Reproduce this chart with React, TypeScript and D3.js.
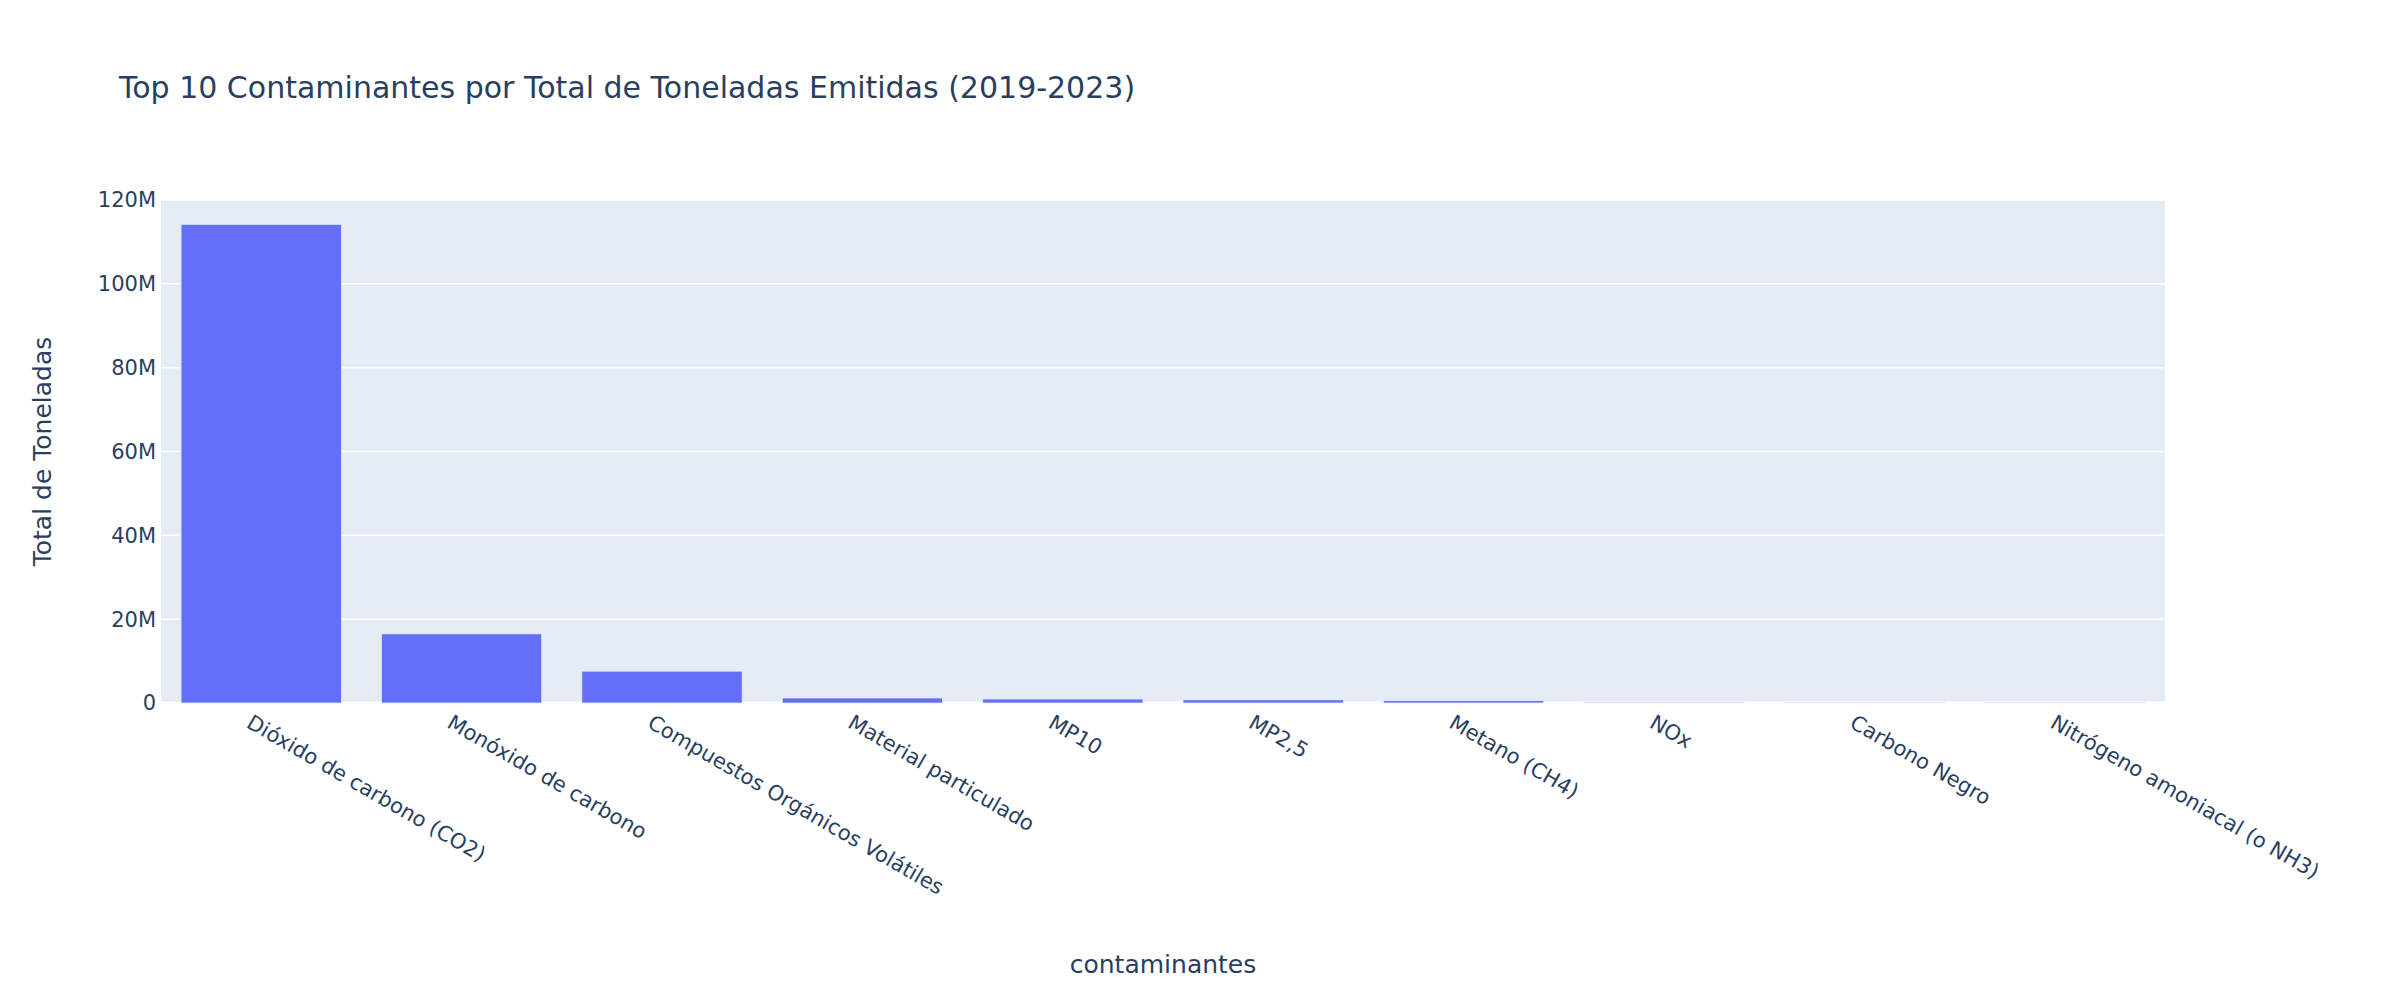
import * as d3 from "d3";
import React from "react";

const contaminantes = [
  "Dióxido de carbono (CO2)",
  "Monóxido de carbono",
  "Compuestos Orgánicos Volátiles",
  "Material particulado",
  "MP10",
  "MP2,5",
  "Metano (CH4)",
  "NOx",
  "Carbono Negro",
  "Nitrógeno amoniacal (o NH3)",
];
const toneladas = [114.2e6, 16.5e6, 7.6e6, 1.2e6, 0.95e6, 0.75e6, 0.55e6, 0.06e6, 0.04e6, 0.03e6];
const yTicks = [0, 20e6, 40e6, 60e6, 80e6, 100e6, 120e6];

const W = 2400;
const H = 1000;
const m = { left: 161, right: 2165, top: 200, bottom: 703 };
const font = "'DejaVu Sans', sans-serif";
const ink = "#2a3f5f";

const App: React.FC = () => {
  const x = d3
    .scaleBand<string>()
    .domain(contaminantes)
    .range([m.left, m.right])
    .paddingInner(0.2)
    .paddingOuter(0.1);
  const y = d3.scaleLinear().domain([0, 120e6]).range([m.bottom, m.top]);
  const fmt = (v: number) => (v === 0 ? "0" : `${v / 1e6}M`);

  return (
    <svg width={W} height={H} style={{ display: "block", position: "absolute", left: 0, top: 0 }} fontFamily={font}>
      <rect x={0} y={0} width={W} height={H} fill="#fff" />
      <rect x={m.left} y={m.top} width={m.right - m.left} height={m.bottom - m.top} fill="#E5ECF6" />
      {yTicks.map((t) => (
        <g key={t}>
          <line x1={m.left} x2={m.right} y1={y(t)} y2={y(t)} stroke="#fff" strokeWidth={t === 0 ? 3 : 1.5} />
          <text x={m.left - 5} y={y(t)} dy="0.35em" textAnchor="end" fontSize={21} fill={ink}>
            {fmt(t)}
          </text>
        </g>
      ))}
      {contaminantes.map((c, i) => (
        <rect
          key={c}
          x={x(c)!}
          y={y(toneladas[i])}
          width={x.bandwidth()}
          height={y(0) - y(toneladas[i])}
          fill="#636EFA"
          stroke="#E5ECF6"
          strokeWidth={0.8}
        />
      ))}
      {contaminantes.map((c) => (
        <text
          key={c}
          transform={`translate(${x(c)! + x.bandwidth() / 2 - 8},${m.bottom + 10}) rotate(30)`}
          dy="0.75em"
          fontSize={21}
          fill={ink}
        >
          {c}
        </text>
      ))}
      <text x={119} y={98} fontSize={30} fill={ink}>
        Top 10 Contaminantes por Total de Toneladas Emitidas (2019-2023)
      </text>
      <text x={(m.left + m.right) / 2} y={973} textAnchor="middle" fontSize={25} fill={ink}>
        contaminantes
      </text>
      <text
        transform={`translate(51,${(m.top + m.bottom) / 2}) rotate(-90)`}
        textAnchor="middle"
        fontSize={25}
        fill={ink}
      >
        Total de Toneladas
      </text>
    </svg>
  );
};

export default App;
